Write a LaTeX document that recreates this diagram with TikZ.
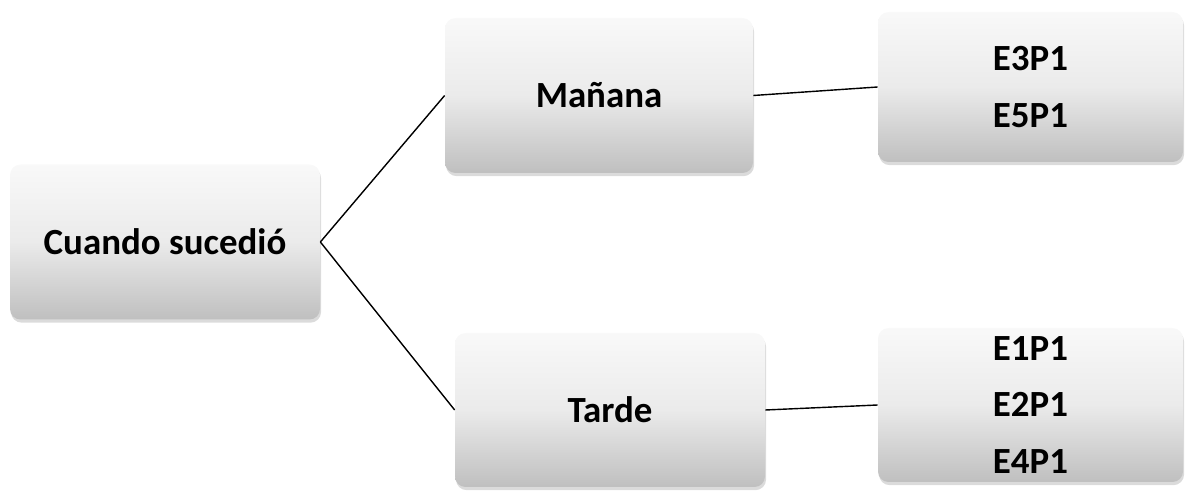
\documentclass[tikz,border=0pt]{standalone}
\usepackage{fontspec}
\setmainfont{Carlito}
\usetikzlibrary{positioning, shadows}

\tikzset{
  caja/.style={rectangle, rounded corners=6pt, draw=none,
    top color=gray!5, bottom color=gray!50, middle color=gray!16,
    drop shadow={shadow xshift=0.6pt, shadow yshift=-1.8pt, opacity=0.35, fill=gray!80},
    font=\fontsize{21}{32.4}\selectfont\bfseries, align=center, inner sep=0pt},
  enlace/.style={line width=0.8pt, black}
}

\begin{document}
\begin{tikzpicture}
\useasboundingbox (0,0) rectangle (23.7,9.82);
% Raiz
\node[caja, minimum width=6.2cm, minimum height=3.1cm] (cuando) at (3.3,4.98) {Cuando sucedió};
% Momentos del dia
\node[caja, minimum width=6.16cm, minimum height=3.1cm] (manana) at (11.98,7.91) {Mañana};
\node[caja, minimum width=6.2cm, minimum height=3.08cm] (tarde) at (12.2,1.62) {Tarde};
% Casos
\node[caja, minimum width=6.1cm, minimum height=3.0cm] (casosM) at (20.61,8.08) {E3P1\\E5P1};
\node[caja, minimum width=6.1cm, minimum height=3.08cm] (casosT) at (20.61,1.72) {E1P1\\E2P1\\E4P1};
% Enlaces
\draw[enlace] (cuando.east) -- (manana.west);
\draw[enlace] (cuando.east) -- (tarde.west);
\draw[enlace] (manana.east) -- (casosM.west);
\draw[enlace] (tarde.east) -- (casosT.west);
\end{tikzpicture}
\end{document}
